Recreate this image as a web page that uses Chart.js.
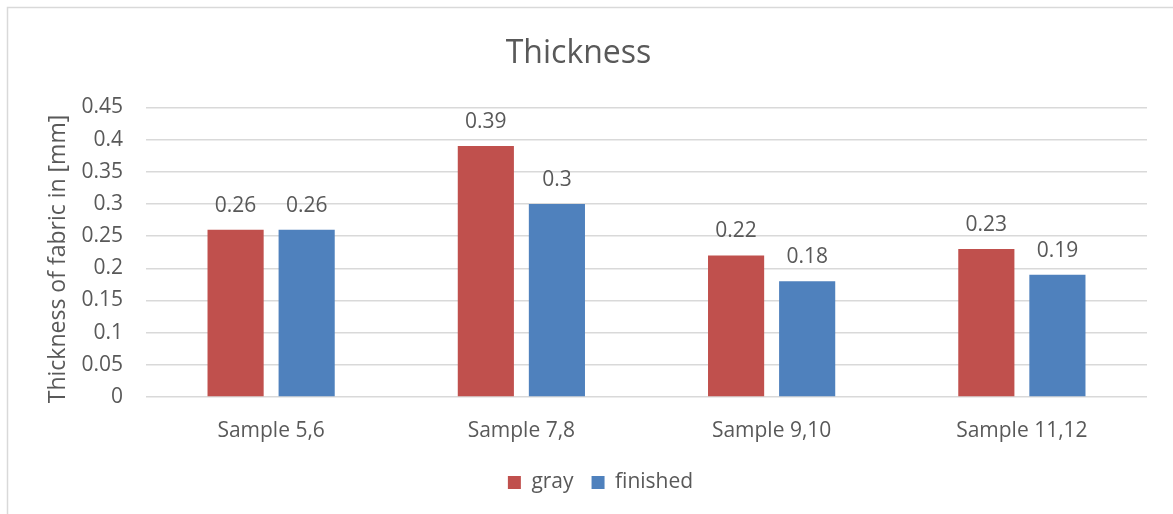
<!DOCTYPE html>
<html><head><meta charset="utf-8">
<script src="https://cdn.jsdelivr.net/npm/chart.js@4"></script>
<style>html,body{margin:0;padding:0;background:#fff}#wrap{width:1173px;height:514px;position:relative}</style>
</head><body><div id="wrap"><canvas id="c" width="1173" height="514"></canvas></div>
<script>
const categories = ["Sample 5,6", "Sample 7,8", "Sample 9,10", "Sample 11,12"];
const grayValues = [0.26, 0.39, 0.22, 0.23];
const finishedValues = [0.26, 0.30, 0.18, 0.19];
const seriesNames = ["gray", "finished"];
const yTicks = [0, 0.05, 0.1, 0.15, 0.2, 0.25, 0.3, 0.35, 0.4, 0.45];
const yTitle = "Thickness of fabric in [mm]";

const FONT = "'Open Sans', sans-serif";
const TXT = "#595959";

const borderPlugin = {
  id: 'frame',
  beforeDraw(chart) {
    const ctx = chart.ctx;
    ctx.save();
    ctx.fillStyle = '#fff';
    ctx.fillRect(0, 0, chart.width, chart.height);
    ctx.strokeStyle = '#d9d9d9';
    ctx.lineWidth = 1.5;
    ctx.strokeRect(7.5, 7.5, chart.width + 20, chart.height + 20);
    // y axis title
    ctx.translate(58, 259);
    ctx.rotate(-Math.PI / 2);
    ctx.font = "23px " + FONT;
    ctx.fillStyle = TXT;
    ctx.textAlign = 'center';
    ctx.textBaseline = 'middle';
    ctx.fillText(yTitle, 0, 0);
    ctx.restore();
  },
  afterLayout(chart) {
    if (chart.legend) { chart.legend.left += 44; }
  }
};
const labelPlugin = {
  id: 'vals',
  afterDatasetsDraw(chart) {
    const ctx = chart.ctx;
    ctx.save();
    ctx.font = "21px " + FONT;
    ctx.fillStyle = TXT;
    ctx.textAlign = 'center';
    ctx.textBaseline = 'middle';
    chart.data.datasets.forEach((ds, i) => {
      chart.getDatasetMeta(i).data.forEach((el, j) => {
        ctx.fillText(String(ds.data[j]), el.x, el.y - 24);
      });
    });
    ctx.restore();
  }
};

new Chart(document.getElementById('c'), {
  type: 'bar',
  data: {
    labels: categories,
    datasets: [
      { label: seriesNames[0], data: grayValues, backgroundColor: '#C0504D', categoryPercentage: 0.568, barPercentage: 0.79 },
      { label: seriesNames[1], data: finishedValues, backgroundColor: '#4F81BD', categoryPercentage: 0.568, barPercentage: 0.79 }
    ]
  },
  options: {
    responsive: false,
    animation: false,
    devicePixelRatio: 1,
    layout: { padding: { left: 10, right: 26, top: 25, bottom: 11 } },
    plugins: {
      title: { display: true, text: 'Thickness', color: TXT, font: { family: FONT, size: 32, weight: 'normal' }, padding: { top: 10, bottom: 34 } },
      legend: { position: 'bottom', labels: { color: TXT, font: { family: FONT, size: 21 }, boxWidth: 13, boxHeight: 13, padding: 18 } },
      tooltip: { enabled: false }
    },
    scales: {
      x: {
        grid: { display: false },
        border: { display: false },
        ticks: { color: TXT, font: { family: FONT, size: 21 }, padding: 13 },
        afterFit(s) { s.height = 57; }
      },
      y: {
        min: 0, max: 0.45,
        afterBuildTicks(s) { s.ticks = yTicks.map(v => ({ value: v })); },
        grid: { color: '#d9d9d9', lineWidth: 1.5, drawTicks: false },
        border: { display: false },
        ticks: { color: TXT, font: { family: FONT, size: 21 }, padding: 23, callback: v => String(+v.toFixed(2)) },
        afterFit(s) { s.width = 136; }
      }
    }
  },
  plugins: [borderPlugin, labelPlugin]
});
</script></body></html>
